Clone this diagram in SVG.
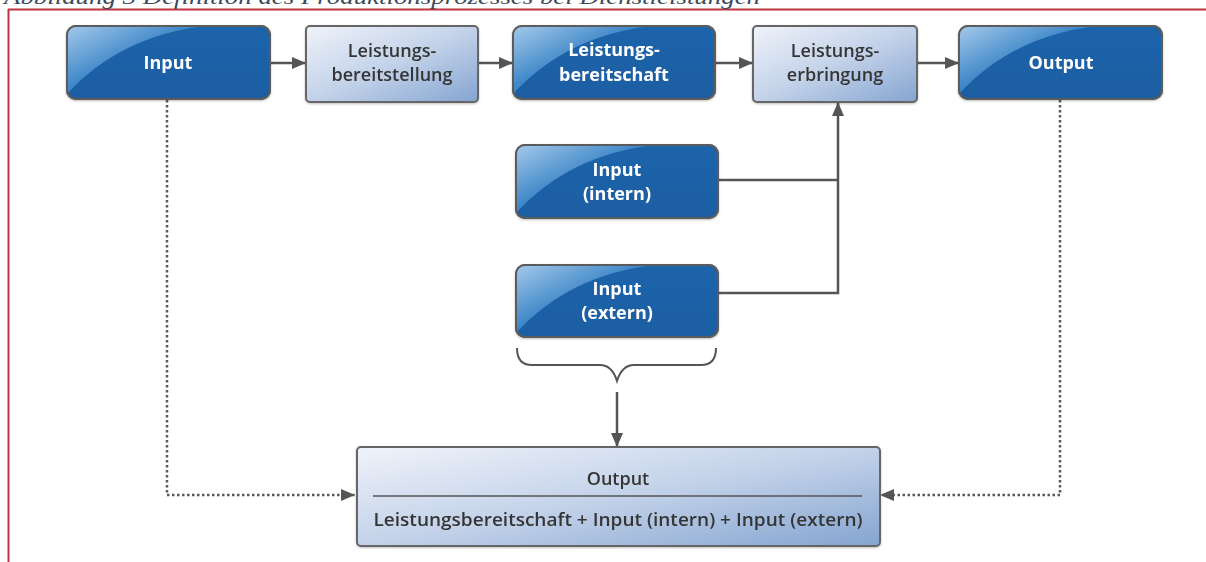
<svg xmlns="http://www.w3.org/2000/svg" width="1206" height="562" viewBox="0 0 1206 562">
<defs>
<style>
.dark{fill:url(#gDark);stroke:#5b5b5b;stroke-width:2}
.light{fill:url(#gLight);stroke:#666;stroke-width:2}
.gloss{fill:url(#gGloss)}
.tw{font-family:"Open Sans","Noto Sans",sans-serif;font-weight:700;font-size:18px;fill:#fff;text-anchor:middle}
.td{font-family:"Open Sans","Noto Sans",sans-serif;font-weight:600;font-size:18px;fill:#363636;text-anchor:middle}
.conn{stroke:#555;stroke-width:2.5;fill:none}
.dot{stroke:#5a5a5a;stroke-width:2.5;fill:none;stroke-dasharray:2.5 2.5}
</style>
<linearGradient id="gDark" x1="0" y1="0" x2="0" y2="1">
<stop offset="0" stop-color="#1f64ab"/><stop offset="1" stop-color="#1c5da2"/>
</linearGradient>
<linearGradient id="gGloss" x1="0" y1="0" x2="1" y2="1">
<stop offset="0" stop-color="#a5c9ea"/><stop offset="0.45" stop-color="#3f88c8"/><stop offset="1" stop-color="#2a74b9"/>
</linearGradient>
<linearGradient id="gLight" x1="0" y1="0" x2="1" y2="1">
<stop offset="0" stop-color="#f0f3fa"/><stop offset="0.5" stop-color="#c3d2e9"/><stop offset="1" stop-color="#84a4d0"/>
</linearGradient>
<marker id="arr" viewBox="0 0 14 12" refX="14" refY="6" markerWidth="14" markerHeight="12" markerUnits="userSpaceOnUse" orient="auto">
<path d="M0,0 L14,6 L0,12 Z" fill="#555"/>
</marker>
<filter id="sh" x="-5%" y="-5%" width="110%" height="115%">
<feDropShadow dx="0" dy="1" stdDeviation="1" flood-color="#000" flood-opacity="0.25"/>
</filter>
<clipPath id="cIn"><rect x="67" y="26" width="203" height="73" rx="9"/></clipPath>
<clipPath id="cLb"><rect x="513" y="26" width="202" height="73" rx="9"/></clipPath>
<clipPath id="cOut"><rect x="959" y="26" width="203" height="73" rx="9"/></clipPath>
<clipPath id="cInt"><rect x="516" y="145" width="202" height="73" rx="9"/></clipPath>
<clipPath id="cExt"><rect x="516" y="265" width="202" height="72" rx="9"/></clipPath>
</defs>

<g id="frame">
<line x1="8" y1="9.5" x2="1206" y2="9.5" stroke="#c0343f" stroke-width="2"/>
<line x1="8.5" y1="9" x2="8.5" y2="562" stroke="#c0343f" stroke-width="2"/>
<text x="4" y="4" font-family="'Liberation Serif',serif" font-style="italic" font-size="21" fill="#3d4a5c" textLength="756" lengthAdjust="spacingAndGlyphs">Abbildung 3 Definition des Produktionsprozesses bei Dienstleistungen</text>
</g>

<g id="connectors">
<line class="conn" x1="270" y1="63" x2="306" y2="63" marker-end="url(#arr)"/>
<line class="conn" x1="478" y1="63" x2="513" y2="63" marker-end="url(#arr)"/>
<line class="conn" x1="715" y1="63" x2="753" y2="63" marker-end="url(#arr)"/>
<line class="conn" x1="917" y1="63" x2="959" y2="63" marker-end="url(#arr)"/>
<polyline class="conn" points="718,180 838,180"/>
<polyline class="conn" points="718,293 838,293 838,102" marker-end="url(#arr)"/>
<path d="M517,348 Q517,365 532,365 L600,365 Q612,365 617,381 Q622,365 634,365 L701,365 Q716,365 716,348" stroke="#555" stroke-width="2" fill="none"/>
<line class="conn" x1="617" y1="392" x2="617" y2="447" marker-end="url(#arr)"/>
<polyline class="dot" points="167,100 167,495 355,495" marker-end="url(#arr)"/>
<polyline class="dot" points="1060,100 1060,495 880,495" marker-end="url(#arr)"/>
</g>

<g id="n-input" filter="url(#sh)">
<rect class="dark" x="67" y="26" width="203" height="73" rx="9"/>
<path class="gloss" clip-path="url(#cIn)" d="M67,26 L205,26 Q120,36 67,94 Z"/>
<rect x="67" y="26" width="203" height="73" rx="9" fill="none" stroke="#5b5b5b" stroke-width="2"/>
<text class="tw" x="168" y="69">Input</text>
</g>

<g id="n-bereitstellung" filter="url(#sh)">
<rect class="light" x="306" y="26" width="172" height="76" rx="4"/>
<text class="td" x="392" y="57">Leistungs-</text>
<text class="td" x="392" y="81">bereitstellung</text>
</g>

<g id="n-bereitschaft" filter="url(#sh)">
<rect class="dark" x="513" y="26" width="202" height="73" rx="9"/>
<path class="gloss" clip-path="url(#cLb)" d="M513,26 L651,26 Q566,36 513,94 Z"/>
<rect x="513" y="26" width="202" height="73" rx="9" fill="none" stroke="#5b5b5b" stroke-width="2"/>
<text class="tw" x="614" y="56">Leistungs-</text>
<text class="tw" x="614" y="81">bereitschaft</text>
</g>

<g id="n-erbringung" filter="url(#sh)">
<rect class="light" x="753" y="26" width="164" height="76" rx="4"/>
<text class="td" x="835" y="57">Leistungs-</text>
<text class="td" x="835" y="81">erbringung</text>
</g>

<g id="n-output" filter="url(#sh)">
<rect class="dark" x="959" y="26" width="203" height="73" rx="9"/>
<path class="gloss" clip-path="url(#cOut)" d="M959,26 L1097,26 Q1012,36 959,94 Z"/>
<rect x="959" y="26" width="203" height="73" rx="9" fill="none" stroke="#5b5b5b" stroke-width="2"/>
<text class="tw" x="1061" y="69">Output</text>
</g>

<g id="n-intern" filter="url(#sh)">
<rect class="dark" x="516" y="145" width="202" height="73" rx="9"/>
<path class="gloss" clip-path="url(#cInt)" d="M516,145 L654,145 Q569,155 516,213 Z"/>
<rect x="516" y="145" width="202" height="73" rx="9" fill="none" stroke="#5b5b5b" stroke-width="2"/>
<text class="tw" x="617" y="176">Input</text>
<text class="tw" x="617" y="200">(intern)</text>
</g>

<g id="n-extern" filter="url(#sh)">
<rect class="dark" x="516" y="265" width="202" height="72" rx="9"/>
<path class="gloss" clip-path="url(#cExt)" d="M516,265 L654,265 Q569,275 516,333 Z"/>
<rect x="516" y="265" width="202" height="72" rx="9" fill="none" stroke="#5b5b5b" stroke-width="2"/>
<text class="tw" x="617" y="295">Input</text>
<text class="tw" x="617" y="319">(extern)</text>
</g>

<g id="n-result" filter="url(#sh)">
<rect class="light" x="357" y="447" width="523" height="99" rx="4"/>
<text class="td" x="618" y="485">Output</text>
<line x1="373" y1="496" x2="862" y2="496" stroke="#555" stroke-width="1.5"/>
<text class="td" x="618" y="526" textLength="489" lengthAdjust="spacingAndGlyphs">Leistungsbereitschaft + Input (intern) + Input (extern)</text>
</g>
</svg>
